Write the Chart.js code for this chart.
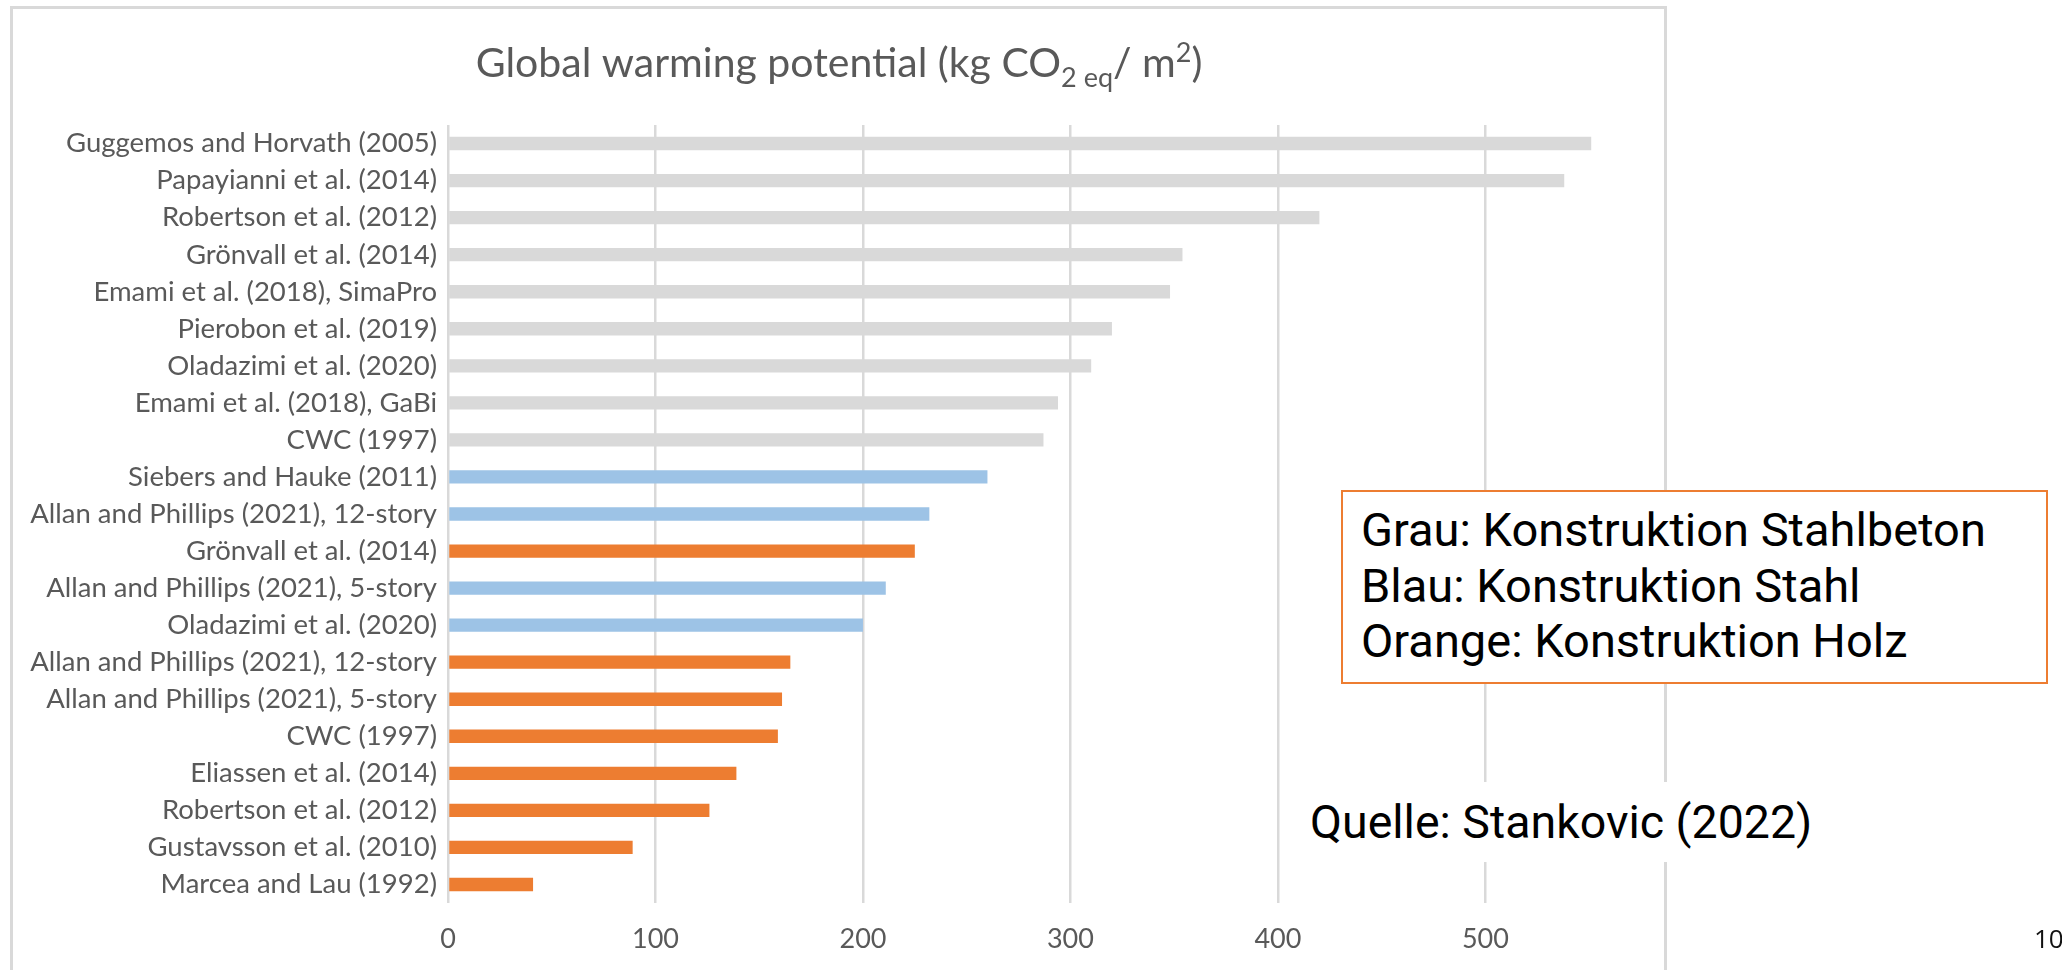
<!DOCTYPE html>
<html>
<head>
<meta charset="utf-8">
<title>Global warming potential</title>
<script src="https://cdn.jsdelivr.net/npm/chart.js@4.4.1/dist/chart.umd.min.js"></script>
<style>
  html, body { margin: 0; padding: 0; background: #fff; }
  body { width: 2062px; height: 970px; overflow: hidden; position: relative; }
  #frame {
    position: absolute; left: 10px; top: 6px; width: 1651px; height: 1000px;
    border: 3px solid #D9D9D9; border-bottom: none;
  }
  #gwp { position: absolute; left: 0; top: 0; }
  #legendBox {
    position: absolute; left: 1341px; top: 490px; width: 707px; height: 194px;
    box-sizing: border-box; border: 2px solid #ED7D31; background: #fff;
    padding: 10px 0 0 18px; font-family: Roboto, sans-serif; font-size: 47px;
    line-height: 55.5px; color: #000; white-space: nowrap;
  }
  #source {
    position: absolute; left: 1296px; top: 782px; height: 80px; line-height: 80px;
    padding: 0 14px; background: #fff; font-family: Roboto, sans-serif;
    font-size: 46.5px; color: #000; white-space: nowrap;
  }
  #slideNo {
    position: absolute; left: 2034px; top: 920px; font-family: "Open Sans", sans-serif;
    font-size: 26px; color: #111; white-space: nowrap;
  }
</style>
</head>
<body>
<div id="frame"></div>
<canvas id="gwp" width="2062" height="970"></canvas>
<div id="legendBox">
  <div>Grau: Konstruktion Stahlbeton</div>
  <div>Blau: Konstruktion Stahl</div>
  <div>Orange: Konstruktion Holz</div>
</div>
<div id="source">Quelle: Stankovic (2022)</div>
<div id="slideNo">10</div>
<script>
// Studies, top to bottom
const categories = [
  'Guggemos and Horvath (2005)',
  'Papayianni et al. (2014)',
  'Robertson et al. (2012)',
  'Grönvall et al. (2014)',
  'Emami et al. (2018), SimaPro',
  'Pierobon et al. (2019)',
  'Oladazimi et al. (2020)',
  'Emami et al. (2018), GaBi',
  'CWC (1997)',
  'Siebers and Hauke (2011)',
  'Allan and Phillips (2021), 12-story',
  'Grönvall et al. (2014)',
  'Allan and Phillips (2021), 5-story',
  'Oladazimi et al. (2020)',
  'Allan and Phillips (2021), 12-story',
  'Allan and Phillips (2021), 5-story',
  'CWC (1997)',
  'Eliassen et al. (2014)',
  'Robertson et al. (2012)',
  'Gustavsson et al. (2010)',
  'Marcea and Lau (1992)'
];

// GWP in kg CO2 eq / m2
const gwpValues = [551, 538, 420, 354, 348, 320, 310, 294, 287, 260, 232, 225, 211, 200, 165, 161, 159, 139, 126, 89, 41];

// Construction type of each study
const constructionType = [
  'Stahlbeton', 'Stahlbeton', 'Stahlbeton', 'Stahlbeton', 'Stahlbeton', 'Stahlbeton',
  'Stahlbeton', 'Stahlbeton', 'Stahlbeton',
  'Stahl', 'Stahl', 'Holz', 'Stahl', 'Stahl',
  'Holz', 'Holz', 'Holz', 'Holz', 'Holz', 'Holz', 'Holz'
];

const xTickValues = [0, 100, 200, 300, 400, 500];

const typeColors = { Stahlbeton: '#D9D9D9', Stahl: '#9DC3E6', Holz: '#ED7D31' };

// Chart title with subscript / superscript pieces
const titleParts = [
  { text: 'Global warming potential (kg CO', kind: 'normal' },
  { text: '2 eq', kind: 'sub' },
  { text: '/ m', kind: 'normal' },
  { text: '2', kind: 'sup' },
  { text: ')', kind: 'normal' }
];

const titlePlugin = {
  id: 'richTitle',
  afterDraw(chart) {
    const ctx = chart.ctx;
    const size = 41, small = 27;
    const centerX = 839, baseY = 77;
    const fontFor = k => (k === 'normal' ? size : small) + 'px Lato';
    ctx.save();
    ctx.fillStyle = '#595959';
    ctx.textBaseline = 'alphabetic';
    ctx.textAlign = 'left';
    let total = 0;
    titleParts.forEach(p => { ctx.font = fontFor(p.kind); total += ctx.measureText(p.text).width; });
    let x = centerX - total / 2;
    titleParts.forEach(p => {
      ctx.font = fontFor(p.kind);
      const dy = p.kind === 'sub' ? 10 : (p.kind === 'sup' ? -15 : 0);
      ctx.fillText(p.text, x, baseY + dy);
      x += ctx.measureText(p.text).width;
    });
    ctx.restore();
  }
};

new Chart(document.getElementById('gwp'), {
  type: 'bar',
  data: {
    labels: categories,
    datasets: [{
      data: gwpValues,
      backgroundColor: constructionType.map(t => typeColors[t]),
      borderWidth: 0,
      barPercentage: 0.36,
      categoryPercentage: 1
    }]
  },
  options: {
    indexAxis: 'y',
    responsive: false,
    animation: false,
    devicePixelRatio: 1,
    layout: { padding: { left: 0, top: 125, right: 421, bottom: 7 } },
    plugins: { legend: { display: false }, tooltip: { enabled: false }, title: { display: false } },
    scales: {
      x: {
        type: 'linear', position: 'bottom', min: 0, max: 575,
        afterBuildTicks: s => { s.ticks = xTickValues.map(v => ({ value: v })); },
        afterFit: s => { s.height = 60; },
        grid: { color: '#D9D9D9', lineWidth: 2.5, drawTicks: false },
        border: { display: false },
        ticks: { color: '#595959', font: { family: 'Lato', size: 27 }, padding: 20 }
      },
      y: {
        afterFit: s => { s.width = 448; },
        grid: { display: false },
        border: { display: false },
        ticks: { color: '#595959', font: { family: 'Lato', size: 27.5 }, padding: 3, autoSkip: false }
      }
    }
  },
  plugins: [titlePlugin]
});
</script>
</body>
</html>
